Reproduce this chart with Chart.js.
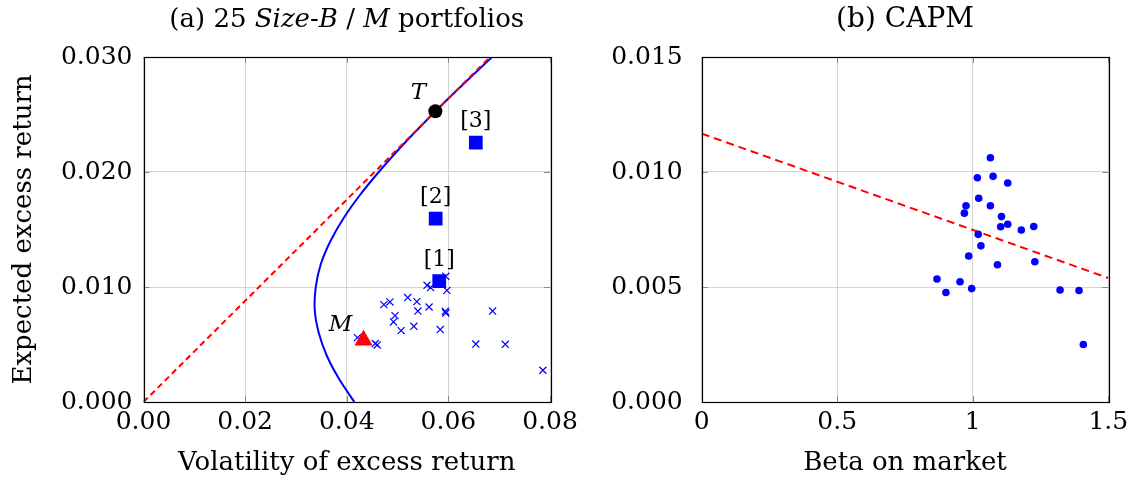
<!DOCTYPE html>
<html>
<head>
<meta charset="utf-8">
<script src="https://cdn.jsdelivr.net/npm/chart.js@4.4.1/dist/chart.umd.min.js"></script>
<style>
html,body{margin:0;padding:0;background:#fff;}
#wrap{position:relative;width:1134px;height:482px;overflow:hidden;}
canvas{position:absolute;top:0;}
</style>
</head>
<body>
<div id="wrap">
<canvas id="c1" width="600" height="482" style="left:0;width:600px;height:482px"></canvas>
<canvas id="c2" width="567" height="482" style="left:567px;width:567px;height:482px"></canvas>
</div>
<script>
// ---------- Panel (a) data ----------
const portfolioVol = [0.0558,0.0565,0.0595,0.0597,0.0473,0.0485,0.0520,0.0538,0.0540,0.0562,0.0594,0.0595,0.0495,0.0492,0.0507,0.0532,0.0584,0.0687,0.0654,0.0712,0.0786,0.0456,0.0460,0.0421,0.0587];
const portfolioRet = [0.01015,0.00995,0.01093,0.00971,0.00847,0.00870,0.00908,0.00873,0.00791,0.00826,0.00789,0.00774,0.00751,0.00696,0.00621,0.00658,0.00630,0.00791,0.00504,0.00502,0.00276,0.00508,0.00496,0.00560,0.01064];
const frontierRet = [0,0.002,0.004,0.006,0.008,0.010,0.012,0.014,0.016,0.018,0.020,0.022,0.024,0.026,0.028,0.030];
const frontierVol = [0.0415,0.0385,0.0361,0.0345,0.0337,0.0339,0.0349,0.0368,0.0394,0.0426,0.0463,0.0503,0.0546,0.0591,0.0638,0.0686];
const cmlVol = [0, 0.0682];
const cmlRet = [0, 0.030];
const highlightVol = [0.0582, 0.0575, 0.0654];
const highlightRet = [0.01052, 0.01595, 0.02256];
const highlightLabels = ['[1]','[2]','[3]'];
const tangencyVol = [0.05744];
const tangencyRet = [0.02528];
const marketVol = [0.0433];
const marketRet = [0.00538];
const xTicksA = [0, 0.02, 0.04, 0.06, 0.08];
const yTicksA = [0, 0.010, 0.020, 0.030];
const xTickLabelsA = ['0.00','0.02','0.04','0.06','0.08'];
const yTickLabelsA = ['0.000','0.010','0.020','0.030'];

// ---------- Panel (b) data ----------
const betas = [1.065,1.017,1.075,1.129,1.022,0.975,0.969,1.065,1.106,1.103,1.129,1.179,1.225,1.020,1.030,0.985,1.091,1.229,0.868,0.953,0.901,0.996,1.322,1.392,1.408];
const meanRet = [0.01062,0.00975,0.00981,0.00952,0.00886,0.00853,0.00821,0.00853,0.00806,0.00762,0.00773,0.00748,0.00763,0.00729,0.00679,0.00635,0.00597,0.00610,0.00535,0.00523,0.00476,0.00493,0.00487,0.00485,0.00250];
const smlBeta = [0, 1.5];
const smlRet = [0.01167, 0.00539];
const xTicksB = [0, 0.5, 1, 1.5];
const yTicksB = [0, 0.005, 0.010, 0.015];
const xTickLabelsB = ['0','0.5','1','1.5'];
const yTickLabelsB = ['0.000','0.005','0.010','0.015'];

const FONT = "'DejaVu Serif', serif";
const pts = (xs, ys) => xs.map((v, i) => ({x: v, y: ys[i]}));

const boxPlugin = {
  id: 'box',
  beforeDatasetsDraw(chart) {
    const {ctx, chartArea: a, scales: {x, y}} = chart;
    ctx.save();
    ctx.strokeStyle = '#8a8a8a';
    ctx.lineWidth = 1;
    const L = 6;
    ctx.beginPath();
    x.ticks.forEach(t => {
      const px = Math.round(x.getPixelForValue(t.value)) + 0.5;
      ctx.moveTo(px, a.top); ctx.lineTo(px, a.top + L);
      ctx.moveTo(px, a.bottom); ctx.lineTo(px, a.bottom - L);
    });
    y.ticks.forEach(t => {
      const py = Math.round(y.getPixelForValue(t.value)) + 0.5;
      ctx.moveTo(a.left, py); ctx.lineTo(a.left + L, py);
      ctx.moveTo(a.right, py); ctx.lineTo(a.right - L, py);
    });
    ctx.stroke();
    ctx.restore();
  },
  afterDraw(chart, args, opts) {
    const {ctx, chartArea: a, scales: {x, y}} = chart;
    ctx.save();
    ctx.strokeStyle = '#000';
    ctx.lineWidth = 1.2;
    ctx.strokeRect(Math.round(a.left) + 0.5, Math.round(a.top) + 0.5, Math.round(a.right - a.left), Math.round(a.bottom - a.top));
    ctx.fillStyle = '#000';
    ctx.textAlign = 'center';
    ctx.textBaseline = 'middle';
    (opts.labels || []).forEach(l => {
      ctx.font = l.font;
      ctx.fillText(l.text, x.getPixelForValue(l.x) + l.dx, y.getPixelForValue(l.y) + l.dy);
    });
    const segs = opts.title || [];
    let total = 0;
    segs.forEach(s => { ctx.font = (s.i ? 'italic ' : '') + opts.titleSize + 'px ' + FONT; s.w = ctx.measureText(s.t).width; total += s.w; });
    let cx = (a.left + a.right) / 2 - total / 2;
    ctx.textAlign = 'left';
    ctx.textBaseline = 'alphabetic';
    segs.forEach(s => { ctx.font = (s.i ? 'italic ' : '') + opts.titleSize + 'px ' + FONT; ctx.fillText(s.t, cx, opts.titleY); cx += s.w; });
    ctx.restore();
  }
};

function axis(min, max, tickVals, tickLabels, size, pad, titleText, titlePad) {
  return {
    type: 'linear', min, max,
    afterBuildTicks: s => { s.ticks = tickVals.map(v => ({value: v})); },
    afterFit: s => {
      if (s.isHorizontal()) { s.height = size; s.paddingLeft = 0; s.paddingRight = 0; }
      else { s.width = size; s.paddingTop = 0; s.paddingBottom = 0; }
    },
    ticks: {
      font: {family: FONT, size: 25}, color: '#000', padding: pad,
      callback: (v, i) => tickLabels[i]
    },
    grid: {color: '#d4d4d4', lineWidth: 1, drawTicks: false},
    border: {display: false},
    title: titleText ? {display: true, text: titleText, color: '#000', font: {family: FONT, size: 26}, padding: titlePad} : {display: false}
  };
}

Chart.defaults.animation = false;

new Chart(document.getElementById('c1'), {
  type: 'scatter',
  data: {
    datasets: [
      {data: pts(tangencyVol, tangencyRet), pointStyle: 'circle', pointRadius: 7, backgroundColor: '#000', borderWidth: 0, order: 0},
      {data: pts(highlightVol, highlightRet), pointStyle: 'rect', pointRadius: 9.7, backgroundColor: '#0000ff', borderWidth: 0, order: 1},
      {data: pts(marketVol, marketRet), pointStyle: 'triangle', pointRadius: 10.5, backgroundColor: '#ff0000', borderWidth: 0, order: 2},
      {data: pts(portfolioVol, portfolioRet), pointStyle: 'crossRot', pointRadius: 5, borderColor: '#0000ff', borderWidth: 1.2, order: 3},
      {data: pts(cmlVol, cmlRet), showLine: true, pointRadius: 0, borderColor: '#ff0000', borderWidth: 2, borderDash: [6, 4], order: 4},
      {data: pts(frontierVol, frontierRet), showLine: true, pointRadius: 0, borderColor: '#0000ff', borderWidth: 2, tension: 0.3, order: 5}
    ]
  },
  options: {
    responsive: false, devicePixelRatio: 1, animation: false,
    layout: {padding: {top: 57, right: 50, bottom: 0, left: 0}},
    scales: {
      x: axis(0, 0.08, xTicksA, xTickLabelsA, 80, 5, 'Volatility of excess return', {top: 0, bottom: 3}),
      y: axis(0, 0.03, yTicksA, yTickLabelsA, 143.5, 11, 'Expected excess return', {top: 9, bottom: 0})
    },
    plugins: {
      legend: {display: false}, tooltip: {enabled: false},
      box: {
        titleSize: 26, titleY: 27,
        title: [{t: '(a) 25 '}, {t: 'Size', i: true}, {t: '-'}, {t: 'B', i: true}, {t: ' / '}, {t: 'M', i: true}, {t: ' portfolios'}],
        labels: [
          ...highlightLabels.map((t, i) => ({text: t, x: highlightVol[i], y: highlightRet[i], dx: 0, dy: -21, font: '22px ' + FONT})),
          {text: 'T', x: tangencyVol[0], y: tangencyRet[0], dx: -17, dy: -18, font: 'italic 23px ' + FONT},
          {text: 'M', x: marketVol[0], y: marketRet[0], dx: -23, dy: -15, font: 'italic 23px ' + FONT}
        ]
      }
    }
  },
  plugins: [boxPlugin]
});

new Chart(document.getElementById('c2'), {
  type: 'scatter',
  data: {
    datasets: [
      {data: pts(betas, meanRet), pointStyle: 'circle', pointRadius: 3.8, backgroundColor: '#0000ff', borderWidth: 0, order: 0},
      {data: pts(smlBeta, smlRet), showLine: true, pointRadius: 0, borderColor: '#ff0000', borderWidth: 2, borderDash: [8, 5], order: 1}
    ]
  },
  options: {
    responsive: false, devicePixelRatio: 1, animation: false,
    layout: {padding: {top: 57, right: 25.7, bottom: 0, left: 0}},
    scales: {
      x: axis(0, 1.5, xTicksB, xTickLabelsB, 80, 5, 'Beta on market', {top: 0, bottom: 3}),
      y: axis(0, 0.015, yTicksB, yTickLabelsB, 134.7, 19, null, null)
    },
    plugins: {
      legend: {display: false}, tooltip: {enabled: false},
      box: {
        titleSize: 28, titleY: 27,
        title: [{t: '(b) CAPM'}],
        labels: []
      }
    }
  },
  plugins: [boxPlugin]
});
</script>
</body>
</html>
